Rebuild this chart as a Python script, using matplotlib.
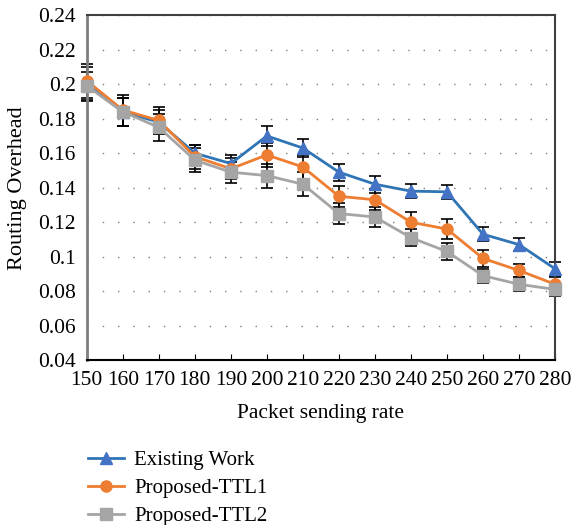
import numpy as np
import matplotlib.pyplot as plt

plt.rcParams['font.family'] = ['Liberation Serif', 'DejaVu Serif']

# data
rates = [150, 160, 170, 180, 190, 200, 210, 220, 230, 240, 250, 260, 270, 280]
existing = [0.200, 0.184, 0.178, 0.160, 0.154, 0.170, 0.163, 0.149, 0.142, 0.138, 0.1376, 0.113, 0.107, 0.093]
ttl1 = [0.202, 0.185, 0.179, 0.158, 0.151, 0.159, 0.152, 0.135, 0.133, 0.120, 0.116, 0.099, 0.092, 0.084]
ttl2 = [0.199, 0.184, 0.175, 0.156, 0.149, 0.147, 0.142, 0.125, 0.123, 0.111, 0.103, 0.089, 0.084, 0.081]
err_existing = [0.010, 0.008, 0.007, 0.005, 0.005, 0.006, 0.005, 0.005, 0.005, 0.004, 0.004, 0.004, 0.004, 0.004]
err_ttl1 = [0.010, 0.009, 0.008, 0.007, 0.006, 0.007, 0.007, 0.006, 0.006, 0.006, 0.006, 0.005, 0.004, 0.004]
err_ttl2 = [0.008, 0.008, 0.008, 0.007, 0.006, 0.007, 0.007, 0.006, 0.006, 0.005, 0.005, 0.004, 0.004, 0.004]

series = [
    ('Existing Work', existing, err_existing, '#2F75B5', '#4472C4', '^'),
    ('Proposed-TTL1', ttl1, err_ttl1, '#ED7D31', '#ED7D31', 'o'),
    ('Proposed-TTL2', ttl2, err_ttl2, '#A5A5A5', '#A5A5A5', 's'),
]

fig = plt.figure(figsize=(5.71, 5.25), dpi=100)
ax = fig.add_axes([0.152, 0.314, 0.820, 0.657])

handles = []
for name, vals, errs, lc, mc, mk in series:
    eb = ax.errorbar(rates, vals, yerr=errs, fmt='none', ecolor='black',
                     elinewidth=1.2, capsize=4, capthick=1.2, zorder=2)
    for art in eb.lines[1] + eb.lines[2]:
        art.set_clip_on(False)
    h, = ax.plot(rates, vals, color=lc, lw=2, marker=mk, markersize=8,
                 markerfacecolor=mc, markeredgecolor=mc, label=name,
                 zorder=3, clip_on=False)
    handles.append(h)

ax.set_xlim(150, 280)
ax.set_ylim(0.04, 0.24)
ax.set_xticks(rates)
yt = np.arange(0.04, 0.2401, 0.02)
ax.set_yticks(yt)
ax.set_yticklabels(['%g' % round(v, 2) for v in yt])
ax.tick_params(axis='x', direction='in', length=4, labelsize=15.5, pad=8)
ax.tick_params(axis='y', length=0, labelsize=15.5, pad=8)
ax.grid(axis='y', color='#7f7f7f', linestyle=(0, (1, 10)), lw=1)
for s in ['top', 'right']:
    ax.spines[s].set_color('#404040')
    ax.spines[s].set_linewidth(1.5)
ax.spines['left'].set_color('#7f7f7f')
ax.spines['left'].set_linewidth(2)
ax.spines['bottom'].set_color('black')
ax.spines['bottom'].set_linewidth(1.5)

ax.set_xlabel('Packet sending rate', fontsize=15.5, labelpad=10)
ax.set_ylabel('Routing Overhead', fontsize=16, labelpad=8)

fig.legend(handles=handles, loc='upper left', bbox_to_anchor=(0.14, 0.158),
           frameon=False, fontsize=15, handlelength=1.7, labelspacing=0.4,
           handletextpad=0.5, borderaxespad=0)

fig.savefig('out.png', dpi=100)
